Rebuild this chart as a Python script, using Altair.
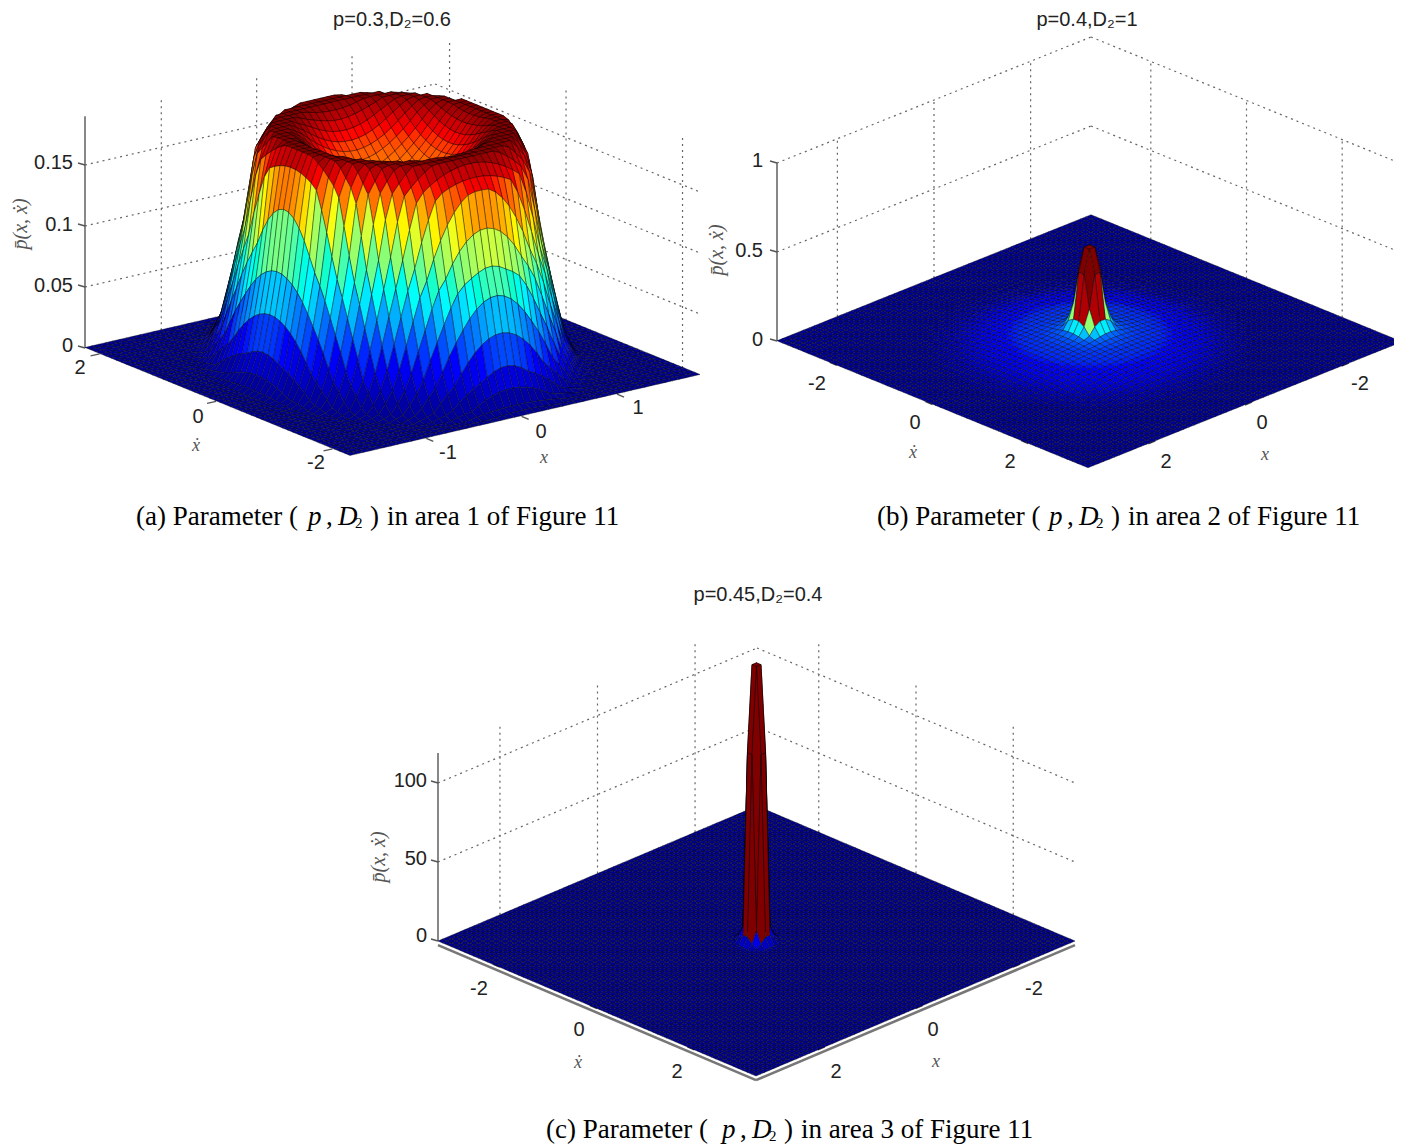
import altair as alt
import numpy as np
import pandas as pd

alt.data_transformers.disable_max_rows()

# ---- values -----------------------------------------------------------
A_RADIUS = [0, .2, .4, .6, .75, .85, 1.0, 1.1, 1.18, 1.27, 1.36, 1.46, 1.56, 9]
A_HEIGHT = [.135, .14, .15, .168, .183, .19, .19, .168, .105, .062, .025, .005, .0005, 0]
B_RADIUS = [0, .078, .174, .233, .28, .32, .39, .5, .7, 1.0, 1.3, 1.6, 2.0, 2.4, 9]
B_HEIGHT = [.53, .53, .40, .22, .15, .13, .09, .075, .065, .06, .05, .04, .015, .002, 0]
C_RADIUS = [0, .065, .146, .195, .235, .268, .325, .36, 9]
C_HEIGHT = [175, 175, 120, 10, 6, 3, .5, 0, 0]

A_Z_TICKS = [0, .05, .1, .15]
B_Z_TICKS = [0, .5, 1]
C_Z_TICKS = [0, 50, 100]
A_X_TICKS = [-1, 0, 1]
A_XD_TICKS = [2, 0, -2]
BC_X_TICKS = [2, 0, -2]
BC_XD_TICKS = [-2, 0, 2]

JET_STOPS = [0, .125, .25, .375, .5, .625, .75, .875, 1]
JET_COLORS = ["#00008f", "#0000ff", "#007fff", "#00ffff", "#7fff7f",
              "#ffff00", "#ff7f00", "#ff0000", "#800000"]

W, H = 1386, 1136
OX, OY = 8, 8  # page margin


class Panel:
    def __init__(s, left, bottom, right, zpx, xr, xdr, zmax, cmax, n):
        s.l = np.array(left, float)
        s.bt = np.array(bottom, float)
        s.r = np.array(right, float)
        s.bk = s.l + s.r - s.bt
        s.zpx = zpx
        s.xr, s.xdr = xr, xdr  # (value at left-corner side, value at far side)
        s.zmax, s.cmax, s.n = zmax, cmax, n

    def xy(s, x, xd, z):
        u = (x - s.xr[0]) / (s.xr[1] - s.xr[0])
        v = (xd - s.xdr[0]) / (s.xdr[1] - s.xdr[0])
        p = s.l + u * (s.bk - s.l) + v * (s.bt - s.l)
        return p[0] - OX, p[1] - z * s.zpx - OY


PA = Panel((85, 348), (350, 456), (700, 375), 1220, (-1.8, 1.87), (2.25, -2.3), .19, .19, 52)
PB = Panel((777, 341), (1088, 468), (1402, 342), 178, (3.25, -3.25), (-3.25, 3.25), 1.0, .42, 60)
PC = Panel((438, 941), (756, 1076), (1075, 941), 1.58, (3.27, -3.27), (-3.27, 3.27), 119, 100, 72)


def surface(p, height_at):
    xs = np.linspace(min(p.xr), max(p.xr), p.n)
    ds = np.linspace(min(p.xdr), max(p.xdr), p.n)
    Z = np.array([[height_at(x, d) for d in ds] for x in xs])
    cells = []
    for i in range(p.n - 1):
        for j in range(p.n - 1):
            cs = [(i, j), (i + 1, j), (i + 1, j + 1), (i, j + 1)]
            ring = []
            for a, b in cs:
                px, py = p.xy(xs[a], ds[b], Z[a, b])
                ring.append([round(float(px), 2), round(float(py), 2)])
            ring.append(ring[0])
            base_y = p.xy((xs[i] + xs[i + 1]) / 2, (ds[j] + ds[j + 1]) / 2, 0)[1]
            # flat-shaded facet: coloured by its first corner
            c = float(Z[i, j]) / p.cmax
            cells.append((base_y, {
                "type": "Feature",
                "geometry": {"type": "Polygon", "coordinates": [ring]},
                "properties": {"c": round(c, 4)},
            }))
    cells.sort(key=lambda t: t[0])
    return [f for _, f in cells]


def ring_height(x, d):
    # the rim is a little narrower in the velocity direction than the foot
    r0 = np.hypot(x - .05, d / 1.45)
    b = 1.27 + .18 * np.clip(r0 - .85, 0, .35) / .35
    return np.interp(np.hypot(x - .05, d / b), A_RADIUS, A_HEIGHT)


features = (
    surface(PA, ring_height)
    + surface(PB, lambda x, d: np.interp(np.hypot(x, d), B_RADIUS, B_HEIGHT))
    + surface(PC, lambda x, d: np.interp(np.hypot(x, d), C_RADIUS, C_HEIGHT))
)

dotted, solid, thick, texts = [], [], [], []


def seg(store, a, b):
    store.append({"x": a[0], "y": a[1], "x2": b[0], "y2": b[1]})


def label(txt, x, y, size=20, font="Liberation Sans", align="center", style="normal",
          color="#222222", angle=0):
    texts.append({"t": txt, "x": x - OX, "y": y - OY, "size": size, "font": font,
                  "align": align, "style": style, "color": color, "angle": angle})


def frame(p, zticks, xticks, xdticks, xtick_dir, xd_tick_dir):
    x0, x1 = p.xr
    d0, d1 = p.xdr
    for z in zticks:
        if z == 0:
            continue
        seg(dotted, p.xy(x0, d0, z), p.xy(x1, d0, z))
        seg(dotted, p.xy(x1, d0, z), p.xy(x1, d1, z))
    for x in xticks:
        seg(dotted, p.xy(x, d0, 0), p.xy(x, d0, p.zmax))
    for d in xdticks:
        seg(dotted, p.xy(x1, d, 0), p.xy(x1, d, p.zmax))
    seg(solid, p.xy(x0, d0, 0), p.xy(x0, d0, p.zmax))
    for z in zticks:
        a = p.xy(x0, d0, z)
        seg(solid, a, (a[0] - 7, a[1] - 2))
    for x in xticks:
        a = p.xy(x, d1, 0)
        seg(solid, a, (a[0] + xtick_dir[0], a[1] + xtick_dir[1]))
    for d in xdticks:
        a = p.xy(x0, d, 0)
        seg(solid, a, (a[0] + xd_tick_dir[0], a[1] + xd_tick_dir[1]))


frame(PA, A_Z_TICKS, A_X_TICKS, A_XD_TICKS, (7, 3), (-9, 2))
frame(PB, B_Z_TICKS, BC_X_TICKS, BC_XD_TICKS, (7, -3), (-7, -3))
frame(PC, C_Z_TICKS, BC_X_TICKS, BC_XD_TICKS, (7, -3), (-7, -3))

# grey ground edge under panel (c)
g = -2.6
seg(thick, PC.xy(PC.xr[0], PC.xdr[0], g), PC.xy(PC.xr[0], PC.xdr[1], g))
seg(thick, PC.xy(PC.xr[0], PC.xdr[1], g), PC.xy(PC.xr[1], PC.xdr[1], g))

# tick labels
for txt, y, in [("0.15", 163), ("0.1", 225), ("0.05", 286), ("0", 346)]:
    label(txt, 73, y, align="right")
for txt, x, y in [("2", 80, 368), ("0", 198, 417), ("-2", 316, 463),
                  ("-1", 448, 453), ("0", 541, 432), ("1", 638, 408)]:
    label(txt, x, y)
for txt, y in [("1", 161), ("0.5", 251), ("0", 340)]:
    label(txt, 763, y, align="right")
for txt, x, y in [("-2", 817, 384), ("0", 915, 423), ("2", 1010, 462),
                  ("2", 1166, 462), ("0", 1262, 423), ("-2", 1360, 384)]:
    label(txt, x, y)
for txt, y in [("100", 781), ("50", 859), ("0", 936)]:
    label(txt, 427, y, align="right")
for txt, x, y in [("-2", 479, 989), ("0", 579, 1030), ("2", 677, 1072),
                  ("2", 836, 1072), ("0", 933, 1030), ("-2", 1034, 989)]:
    label(txt, x, y)

# axis names
GR = "#555555"
for x, y in [(196, 446), (913, 453), (578, 1063)]:
    label("ẋ", x, y, size=18, font="Liberation Serif", style="italic", color=GR)
for x, y in [(544, 458), (1265, 455), (936, 1062)]:
    label("x", x, y, size=18, font="Liberation Serif", style="italic", color=GR)
for x, y in [(21, 224), (717, 250), (379, 857)]:
    label("p̄(x, ẋ)", x, y, size=20, font="Liberation Serif", style="italic", color=GR, angle=270)

# titles (the first two sit just under the top edge of the drawing area)
label("p=0.3,D₂=0.6", 392, 20, size=20)
label("p=0.4,D₂=1", 1087, 20, size=20)
label("p=0.45,D₂=0.4", 758, 595, size=20)


def caption(tag, area, x0, x1, y):
    S = "Liberation Serif"
    label(f"({tag}) Parameter (", x0, y, size=27, font=S, align="left", color="black")
    label("p", x1 + 172, y, size=27, font=S, align="left", style="italic", color="black")
    label(",", x1 + 190, y, size=27, font=S, align="left", color="black")
    label("D", x1 + 202, y, size=27, font=S, align="left", style="italic", color="black")
    label("2", x1 + 219, y + 6, size=15, font=S, align="left", color="black")
    label(")", x1 + 234, y, size=27, font=S, align="left", color="black")
    label(f"in area {area} of Figure 11", x1 + 251, y, size=27, font=S, align="left", color="black")


caption("a", 1, 136, 136, 517)
caption("b", 2, 877, 877, 517)
caption("c", 3, 546, 550, 1130)

xs = alt.Scale(domain=[0, W], range=[0, W], nice=False, zero=False)
ys = alt.Scale(domain=[0, H], range=[0, H], nice=False, zero=False)
X = alt.X("x:Q", scale=xs, axis=None)
Y = alt.Y("y:Q", scale=ys, axis=None)

dot_layer = alt.Chart(pd.DataFrame(dotted)).mark_rule(
    color="#666666", strokeWidth=1.2, strokeDash=[2, 4]
).encode(X, Y, x2="x2:Q", y2="y2:Q")

solid_layer = alt.Chart(pd.DataFrame(solid)).mark_rule(
    color="#555555", strokeWidth=1.4
).encode(X, Y, x2="x2:Q", y2="y2:Q")

thick_layer = alt.Chart(pd.DataFrame(thick)).mark_rule(
    color="#777777", strokeWidth=2.6
).encode(X, Y, x2="x2:Q", y2="y2:Q")

surf_layer = alt.Chart(alt.Data(values=features)).mark_geoshape(
    stroke="black", strokeWidth=0.45, strokeOpacity=0.85
).encode(
    color=alt.Color("properties.c:Q", legend=None,
                    scale=alt.Scale(domain=JET_STOPS, range=JET_COLORS, clamp=True))
).project(type="identity", scale=1, translate=[0, 0])

df_t = pd.DataFrame(texts)
layers = [dot_layer, solid_layer, thick_layer, surf_layer]
for (size, font, align, style, color, angle), grp in df_t.groupby(
        ["size", "font", "align", "style", "color", "angle"]):
    layers.append(
        alt.Chart(grp).mark_text(
            fontSize=int(size), font=font, align=align, fontStyle=style, color=color,
            angle=int(angle), baseline="middle"
        ).encode(X, Y, text="t:N")
    )

chart = alt.layer(*layers).properties(
    width=W, height=H, padding=0,
    autosize=alt.AutoSizeParams(type="none"),
    view=alt.ViewConfig(stroke=None),
    background="white",
)
chart.save("out.html", embed_options={"renderer": "svg", "actions": False})
